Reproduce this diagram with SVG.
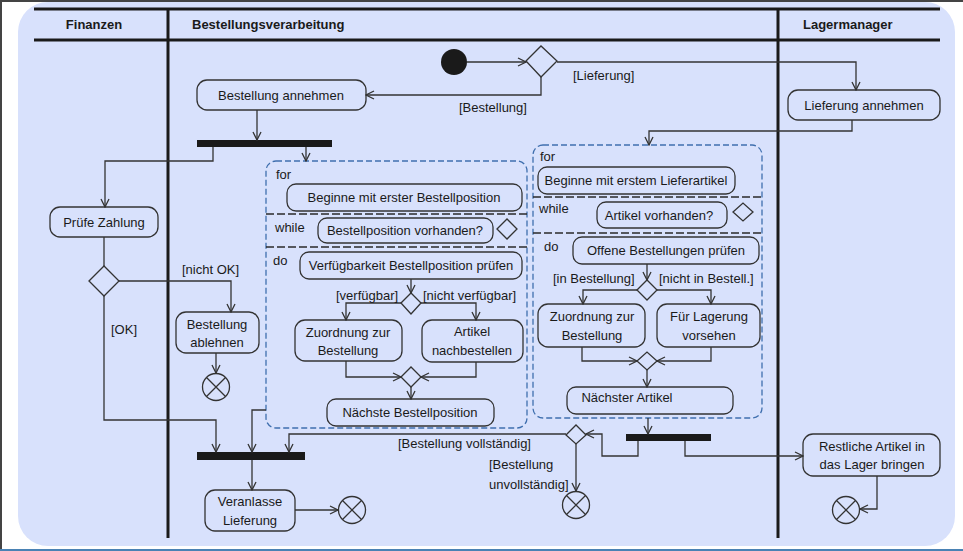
<svg xmlns="http://www.w3.org/2000/svg" width="963" height="551" viewBox="0 0 963 551">
<style>
.t{font-family:"Liberation Sans",Arial,sans-serif;font-size:13px;fill:#1a1a1a}
.c{text-anchor:middle}
.h{font-weight:bold}
.n{fill:none;stroke:#333;stroke-width:1.3}
.e{fill:none;stroke:#333;stroke-width:1.3}
.bar{fill:#1a1a1a}
.lane{stroke:#1a1a1a;stroke-width:3}
.loop{fill:none;stroke:#3f6fae;stroke-width:1.3;stroke-dasharray:6,3}
.sep{stroke:#2a2a2a;stroke-width:1.4;stroke-dasharray:8,3}
</style>
<defs>
<marker id="a" markerUnits="userSpaceOnUse" markerWidth="10" markerHeight="10" refX="9" refY="5" orient="auto"><path d="M1,1 L9,5 L1,9" fill="none" stroke="#333" stroke-width="1.3"/></marker>
<g id="fin"><circle r="13.5" fill="none" stroke="#333" stroke-width="1.3"/><path d="M-9.5,-9.5 L9.5,9.5 M-9.5,9.5 L9.5,-9.5" stroke="#333" stroke-width="1.3"/></g>
</defs>
<rect x="0" y="0" width="963" height="551" fill="#fff"/>
<path d="M1,551 L1,1 L963,1" fill="none" stroke="#444" stroke-width="2"/>
<line x1="0" y1="550" x2="963" y2="550" stroke="#4a82b4" stroke-width="2"/>
<rect x="18" y="2" width="937" height="544" rx="30" fill="#d8e1fc"/>
<g id="lanes">
<line class="lane" x1="34" y1="9" x2="940" y2="9"/>
<line class="lane" x1="34" y1="40" x2="940" y2="40"/>
<line class="lane" x1="168" y1="9" x2="168" y2="538"/>
<line class="lane" x1="778" y1="9" x2="778" y2="538"/>
<text class="t h c" x="94" y="29">Finanzen</text>
<text class="t h" x="192" y="29">Bestellungsverarbeitung</text>
<text class="t h" x="803" y="29">Lagermanager</text>
</g>
<g id="loop1">
<rect class="loop" x="266" y="161" width="261" height="267" rx="10"/>
<line class="sep" x1="266" y1="214" x2="527" y2="214"/>
<line class="sep" x1="266" y1="247" x2="527" y2="247"/>
<text class="t" x="276" y="179">for</text>
<text class="t" x="275" y="232">while</text>
<text class="t" x="273" y="265">do</text>
</g>
<g id="loop2">
<rect class="loop" x="533" y="145" width="229" height="273" rx="10"/>
<line class="sep" x1="533" y1="197" x2="762" y2="197"/>
<line class="sep" x1="533" y1="233" x2="762" y2="233"/>
<text class="t" x="540" y="161">for</text>
<text class="t" x="539" y="213">while</text>
<text class="t" x="544" y="251">do</text>
</g>
<g id="start"><circle cx="454" cy="62" r="13" fill="#1a1a1a"/></g>
<g id="dec1"><path class="n" d="M526,61 L541,46 L557,61 L541,77 Z"/></g>
<g id="bestAnnehmen"><rect class="n" x="197" y="80" width="169" height="30" rx="10"/><text class="t c" x="281" y="100">Bestellung annehmen</text></g>
<g id="lieferAnnehmen"><rect class="n" x="788" y="90" width="152" height="30" rx="10"/><text class="t c" x="864" y="110">Lieferung annehmen</text></g>
<g id="fork1"><rect class="bar" x="197" y="140" width="135" height="7"/></g>
<g id="pruefe"><rect class="n" x="50" y="207" width="108" height="30" rx="10"/><text class="t c" x="104" y="227">Prüfe Zahlung</text></g>
<g id="dec2"><path class="n" d="M89,281 L104,266 L119,281 L104,296 Z"/></g>
<g id="ablehnen"><rect class="n" x="176" y="312" width="83" height="41" rx="10"/><text class="t c" x="217" y="329">Bestellung</text><text class="t c" x="217" y="347">ablehnen</text></g>
<g id="final1"><use href="#fin" x="216" y="387"/></g>
<g id="beginne1"><rect class="n" x="287" y="184" width="235" height="27" rx="9"/><text class="t c" x="404" y="202">Beginne mit erster Bestellposition</text></g>
<g id="vorhanden1"><rect class="n" x="318" y="218" width="175" height="25" rx="9"/><text class="t c" x="405" y="235">Bestellposition vorhanden?</text></g>
<g id="dec3"><path class="n" d="M497,229 L507,219 L517,229 L507,239 Z"/></g>
<g id="verfuegbarkeit"><rect class="n" x="300" y="252" width="222" height="27" rx="9"/><text class="t c" x="411" y="270">Verfügbarkeit Bestellposition prüfen</text></g>
<g id="dec4"><path class="n" d="M401,303 L411,293 L421,303 L411,314 Z"/></g>
<g id="zuordnung1"><rect class="n" x="295" y="320" width="107" height="41" rx="10"/><text class="t c" x="348" y="337">Zuordnung zur</text><text class="t c" x="348" y="355">Bestellung</text></g>
<g id="nachbestellen"><rect class="n" x="422" y="320" width="101" height="42" rx="10"/><text class="t c" x="472" y="336">Artikel</text><text class="t c" x="472" y="355">nachbestellen</text></g>
<g id="merge1"><path class="n" d="M401,377 L411,367 L421,377 L411,387 Z"/></g>
<g id="naechste1"><rect class="n" x="327" y="399" width="167" height="27" rx="9"/><text class="t c" x="410" y="417">Nächste Bestellposition</text></g>
<g id="beginne2"><rect class="n" x="538" y="167" width="197" height="27" rx="9"/><text class="t c" x="636" y="185">Beginne mit erstem Lieferartikel</text></g>
<g id="vorhanden2"><rect class="n" x="597" y="202" width="130" height="26" rx="9"/><text class="t c" x="659" y="220">Artikel vorhanden?</text></g>
<g id="dec5"><path class="n" d="M733,212 L743,203 L753,212 L743,221 Z"/></g>
<g id="offene"><rect class="n" x="573" y="237" width="186" height="27" rx="9"/><text class="t c" x="666" y="255">Offene Bestellungen prüfen</text></g>
<g id="dec6"><path class="n" d="M637,290 L647,280 L657,290 L647,300 Z"/></g>
<g id="zuordnung2"><rect class="n" x="538" y="304" width="107" height="43" rx="10"/><text class="t c" x="592" y="321">Zuordnung zur</text><text class="t c" x="592" y="340">Bestellung</text></g>
<g id="lagerung"><rect class="n" x="657" y="304" width="103" height="43" rx="10"/><text class="t c" x="709" y="321">Für Lagerung</text><text class="t c" x="709" y="340">vorsehen</text></g>
<g id="merge2"><path class="n" d="M637,361 L647,352 L657,361 L647,370 Z"/></g>
<g id="naechster2"><rect class="n" x="567" y="387" width="166" height="27" rx="9"/><text class="t c" x="627" y="402">Nächster Artikel</text></g>
<g id="fork2"><rect class="bar" x="626" y="434" width="85" height="7"/></g>
<g id="dec7"><path class="n" d="M566,435 L576,425 L586,435 L576,444 Z"/></g>
<g id="join1"><rect class="bar" x="197" y="452" width="108" height="8"/></g>
<g id="veranlasse"><rect class="n" x="205" y="490" width="90" height="41" rx="10"/><text class="t c" x="250" y="506">Veranlasse</text><text class="t c" x="250" y="525">Lieferung</text></g>
<g id="final2"><use href="#fin" x="352" y="510"/></g>
<g id="final3"><use href="#fin" x="576" y="505"/></g>
<g id="restliche"><rect class="n" x="803" y="434" width="137" height="42" rx="10"/><text class="t c" x="872" y="451">Restliche Artikel in</text><text class="t c" x="872" y="469">das Lager bringen</text></g>
<g id="final4"><use href="#fin" x="846" y="510"/></g>
<g id="connectors" marker-end="url(#a)">
<path class="e" d="M467,62 L526,62"/>
<path class="e" d="M557,62 L856,62 L856,90"/>
<path class="e" d="M541,77 L541,95 L366,95"/>
<path class="e" d="M257,110 L257,140"/>
<path class="e" d="M213,147 L213,161 L105,161 L105,207"/>
<path class="e" d="M306,147 L306,161"/>
<path class="e" d="M104,237 L104,266" marker-end="none"/>
<path class="e" d="M119,281 L231,281 L231,312"/>
<path class="e" d="M104,296 L104,420 L216,420 L216,452"/>
<path class="e" d="M216,353 L216,373"/>
<path class="e" d="M266,410 L252,410 L252,452"/>
<path class="e" d="M566,434 L289,434 L289,452"/>
<path class="e" d="M252,460 L252,490"/>
<path class="e" d="M295,510 L338,510"/>
<path class="e" d="M852,120 L852,131 L649,131 L649,145"/>
<path class="e" d="M648,418 L648,434"/>
<path class="e" d="M638,441 L638,456 L602,456 L602,434 L586,434"/>
<path class="e" d="M685,441 L685,456 L803,456"/>
<path class="e" d="M576,444 L576,491"/>
<path class="e" d="M877,476 L877,509 L860,509"/>
<path class="e" d="M411,279 L411,293"/>
<path class="e" d="M401,303 L346,303 L346,320"/>
<path class="e" d="M421,303 L476,303 L476,320"/>
<path class="e" d="M346,361 L346,377 L401,377"/>
<path class="e" d="M476,362 L476,377 L421,377"/>
<path class="e" d="M411,387 L411,399"/>
<path class="e" d="M647,264 L647,280"/>
<path class="e" d="M637,290 L583,290 L583,304"/>
<path class="e" d="M657,290 L711,290 L711,304"/>
<path class="e" d="M582,347 L582,361 L637,361"/>
<path class="e" d="M711,347 L711,361 L657,361"/>
<path class="e" d="M647,370 L647,387"/>
</g>
<g id="labels">
<text class="t" x="573" y="80">[Lieferung]</text>
<text class="t" x="459" y="112">[Bestellung]</text>
<text class="t" x="182" y="274">[nicht OK]</text>
<text class="t" x="111" y="334">[OK]</text>
<text class="t" x="336" y="300">[verfügbar]</text>
<text class="t" x="423" y="300">[nicht verfügbar]</text>
<text class="t" x="553" y="283">[in Bestellung]</text>
<text class="t" x="659" y="283">[nicht in Bestell.]</text>
<text class="t" x="398" y="448">[Bestellung vollständig]</text>
<text class="t" x="489" y="469">[Bestellung</text>
<text class="t" x="489" y="489">unvollständig]</text>
</g>
</svg>
